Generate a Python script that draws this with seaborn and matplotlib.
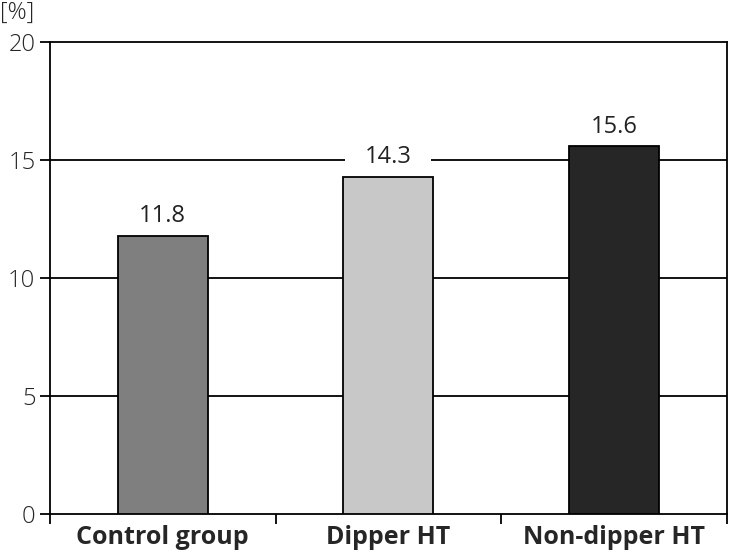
import matplotlib
matplotlib.use("Agg")
import matplotlib.pyplot as plt
import seaborn as sns
import pandas as pd

groups = ["Control group", "Dipper HT", "Non-dipper HT"]
values = [11.8, 14.3, 15.6]
colors = ["#7f7f7f", "#c8c8c8", "#262626"]

df = pd.DataFrame({"group": groups, "value": values})

sns.set_style("white")
plt.rcParams["font.family"] = ["Open Sans", "DejaVu Sans"]

fig = plt.figure(figsize=(7.29, 5.54), dpi=100)
ax = fig.add_axes([0.0686, 0.0722, 0.928, 0.852])

sns.barplot(data=df, x="group", y="value", hue="group", palette=colors,
            width=0.4, edgecolor="black", linewidth=1.3, legend=False,
            zorder=3, ax=ax)

for y in [5, 10, 15]:
    ax.axhline(y, color="black", linewidth=1.3, zorder=1)

for i, v in enumerate(values):
    ax.text(i, v + 0.3, f"{v}", ha="center", va="bottom", fontsize=17,
            color="#222222", zorder=2,
            bbox=dict(facecolor="white", edgecolor="none", pad=14))

ax.set_xlim(-0.5, 2.5)
ax.set_ylim(0, 20)
ax.set_yticks([0, 5, 10, 15, 20])
ax.set_yticklabels(["0", "5", "10", "15", "20"], fontsize=17, fontweight="light")
ax.set_xticks([-0.5, 0.5, 1.5, 2.5])
ax.set_xticklabels([])
ax.set_xticks([0, 1, 2], minor=True)
ax.set_xticklabels(groups, minor=True, fontsize=18, fontweight="bold")
ax.tick_params(axis="x", which="minor", bottom=False, length=0, pad=8)
ax.tick_params(axis="x", which="major", bottom=True, direction="out",
               length=7.5, width=1.3, color="black")
ax.tick_params(axis="y", left=True, direction="out", length=7.5, width=1.3,
               color="black", pad=3)
ax.set_xlabel("")
ax.set_ylabel("")
for s in ax.spines.values():
    s.set_color("black")
    s.set_linewidth(1.3)

fig.text(0.0, 0.998, "[%]", ha="left", va="top", fontsize=17, fontweight="light")

fig.savefig("out.png", dpi=100)
